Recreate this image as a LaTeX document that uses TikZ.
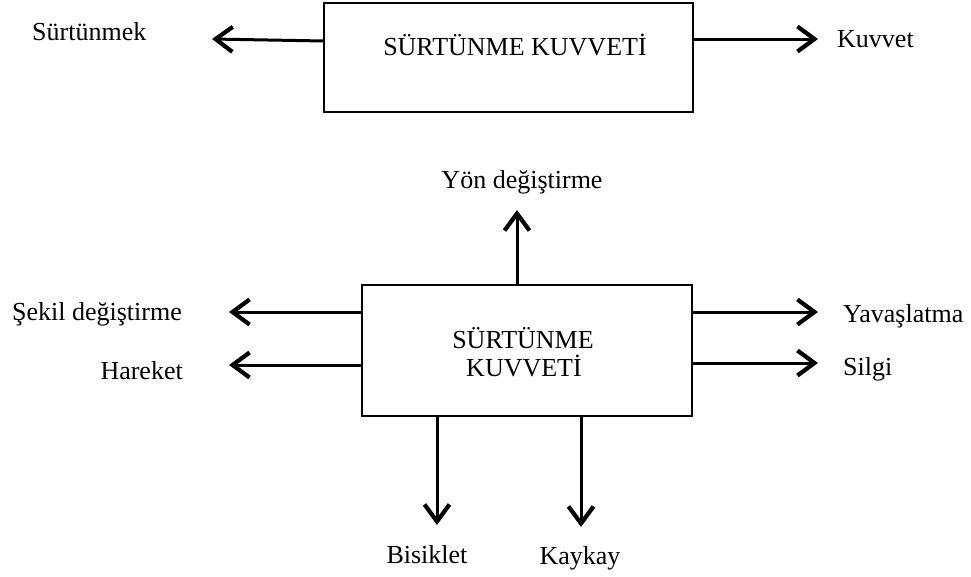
\documentclass[tikz,border=0pt]{standalone}
\usepackage{fontspec}
\setmainfont{Liberation Serif}
\usetikzlibrary{arrows.meta}
\begin{document}
\begin{tikzpicture}[x=1pt,y=-1pt,
  frame/.style={draw,line width=2.4pt,rectangle,inner sep=0pt},
  lbl/.style={font=\fontsize{26}{31}\selectfont,inner sep=0pt},
  conn/.style={line width=3pt,-{Straight Barb[length=17pt,width=25pt,line width=4.2pt]}}]
\useasboundingbox (0,0) rectangle (971,576);

% upper block
\node[frame,minimum width=369pt,minimum height=109pt] (b1) at (508.5,57.5) {};
\node[lbl,anchor=base] (t1) at (515,55) {SÜRTÜNME KUVVETİ};
\node[lbl,anchor=base west] (sur) at (32,40) {Sürtünmek};
\node[lbl,anchor=base west] (kuv) at (837,47) {Kuvvet};
\coordinate (c1) at (212,39);
\coordinate (c2) at (818,39);
\draw[conn] (324,41) -- (c1);
\draw[conn] (b1.east |- c2) -- (c2);

% lower block
\node[frame,minimum width=330pt,minimum height=131pt] (b2) at (527,350.5) {};
\node[lbl,anchor=base] (t2a) at (523,348) {SÜRTÜNME};
\node[lbl,anchor=base] (t2b) at (524,376) {KUVVETİ};
\node[lbl,anchor=base] (yon) at (522,188) {Yön değiştirme};
\node[lbl,anchor=base east] (sek) at (182,320) {Şekil değiştirme};
\node[lbl,anchor=base east] (har) at (183,379) {Hareket};
\node[lbl,anchor=base west] (yav) at (843,322) {Yavaşlatma};
\node[lbl,anchor=base west] (sil) at (843,375) {Silgi};
\node[lbl,anchor=base] (bis) at (427,563) {Bisiklet};
\node[lbl,anchor=base] (kay) at (580,564) {Kaykay};

\coordinate (u) at (517,210);
\coordinate (l1) at (229,312);
\coordinate (l2) at (229,365);
\coordinate (r1) at (818,312);
\coordinate (r2) at (818,363);
\coordinate (d1) at (437,525);
\coordinate (d2) at (581,527);

\draw[conn] (b2.north -| u) -- (u);
\draw[conn] (b2.west |- l1) -- (l1);
\draw[conn] (b2.west |- l2) -- (l2);
\draw[conn] (b2.east |- r1) -- (r1);
\draw[conn] (b2.east |- r2) -- (r2);
\draw[conn] (b2.south -| d1) -- (d1);
\draw[conn] (b2.south -| d2) -- (d2);
\end{tikzpicture}
\end{document}
